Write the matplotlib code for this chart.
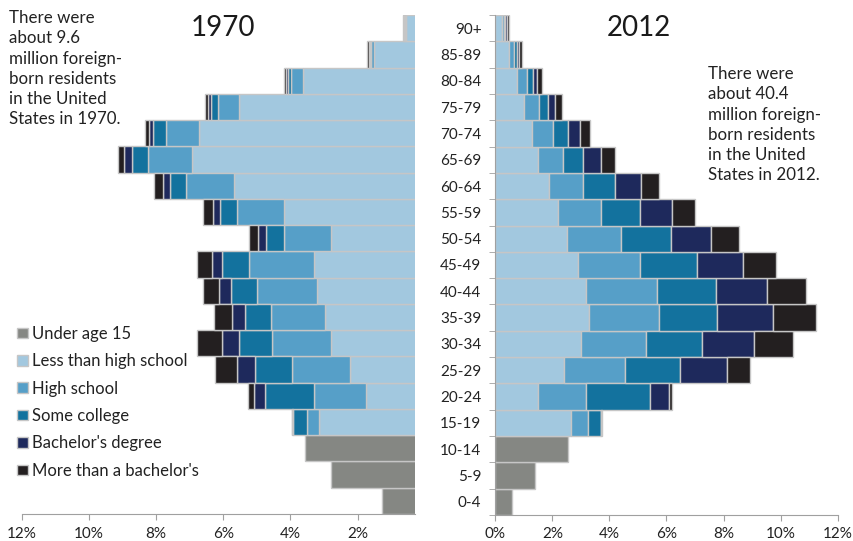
import matplotlib
matplotlib.use("Agg")
import matplotlib.pyplot as plt
from matplotlib.patches import Patch
import numpy as np

plt.rcParams['font.family'] = ['Lato', 'DejaVu Sans']

ages = ["0-4", "5-9", "10-14", "15-19", "20-24", "25-29", "30-34", "35-39",
        "40-44", "45-49", "50-54", "55-59", "60-64", "65-69", "70-74",
        "75-79", "80-84", "85-89", "90+"]

series = ["Under age 15", "Less than high school", "High school",
          "Some college", "Bachelor's degree", "More than a bachelor's"]
colors = ["#858783", "#a2c8df", "#569fc8", "#13729e", "#1e295c", "#231f20"]

# 1970 (percent of foreign-born population), rows in order of `ages`
u15_1970 = [1.27, 2.80, 3.56] + [0] * 16
lths_1970 = [0, 0, 0, 3.15, 1.75, 2.23, 2.80, 2.98, 3.22, 3.30, 2.80, 4.19, 5.68, 6.93, 6.73, 5.54, 3.62, 1.50, 0.57]
hs_1970 = [0, 0, 0, 0.37, 1.55, 1.71, 1.75, 1.61, 1.77, 1.94, 1.39, 1.39, 1.42, 1.30, 0.97, 0.62, 0.37, 0.11, 0.02]
sc_1970 = [0, 0, 0, 0.40, 1.45, 1.10, 0.98, 0.77, 0.79, 0.79, 0.55, 0.51, 0.47, 0.50, 0.38, 0.20, 0.08, 0.03, 0.01]
ba_1970 = [0, 0, 0, 0.02, 0.34, 0.54, 0.50, 0.37, 0.34, 0.31, 0.22, 0.22, 0.23, 0.21, 0.12, 0.10, 0.05, 0.03, 0.01]
ma_1970 = [0, 0, 0, 0.01, 0.18, 0.65, 0.76, 0.53, 0.47, 0.43, 0.28, 0.28, 0.25, 0.19, 0.12, 0.07, 0.07, 0.06, 0.05]

# 2012
u15_2012 = [0.60, 1.40, 2.56] + [0] * 16
lths_2012 = [0, 0, 0, 2.64, 1.51, 2.40, 3.01, 3.30, 3.17, 2.89, 2.52, 2.21, 1.87, 1.51, 1.29, 1.01, 0.75, 0.48, 0.24]
hs_2012 = [0, 0, 0, 0.60, 1.66, 2.15, 2.28, 2.44, 2.49, 2.18, 1.88, 1.48, 1.21, 0.87, 0.72, 0.51, 0.37, 0.19, 0.06]
sc_2012 = [0, 0, 0, 0.46, 2.24, 1.91, 1.95, 2.02, 2.07, 2.00, 1.75, 1.38, 1.10, 0.70, 0.53, 0.34, 0.21, 0.09, 0.05]
ba_2012 = [0, 0, 0, 0.02, 0.68, 1.65, 1.83, 1.97, 1.79, 1.60, 1.40, 1.11, 0.94, 0.61, 0.43, 0.24, 0.14, 0.08, 0.05]
ma_2012 = [0, 0, 0, 0.02, 0.10, 0.83, 1.38, 1.50, 1.38, 1.17, 0.98, 0.81, 0.63, 0.49, 0.35, 0.25, 0.17, 0.10, 0.09]

xticks = [0, 2, 4, 6, 8, 10, 12]
xticklabels = ["0%", "2%", "4%", "6%", "8%", "10%", "12%"]

W, H = 854, 541
fig = plt.figure(figsize=(W / 100, H / 100), dpi=100)

ax_l = fig.add_axes([21.7 / W, (H - 514) / H, (415 - 21.7) / W, 499 / H])
ax_r = fig.add_axes([495.3 / W, (H - 515) / H, (837.7 - 495.3) / W, 500 / H])

edge = "#c6c6c6"
y = np.arange(len(ages))


def draw(ax, data):
    left = np.zeros(len(ages))
    for vals, c in zip(data, colors):
        v = np.array(vals, dtype=float)
        mask = v > 0
        ax.barh(y[mask], v[mask], left=left[mask], height=1.0, color=c,
                edgecolor=edge, linewidth=1.0)
        left += v


draw(ax_l, [u15_1970, lths_1970, hs_1970, sc_1970, ba_1970, ma_1970])
draw(ax_r, [u15_2012, lths_2012, hs_2012, sc_2012, ba_2012, ma_2012])

spine_c = "#a0a0a0"
for ax in (ax_l, ax_r):
    ax.set_ylim(-0.5, len(ages) - 0.5)
    for s in ("top", "right", "left"):
        ax.spines[s].set_visible(False)
    ax.spines["bottom"].set_color(spine_c)
    ax.tick_params(axis="x", length=4, color=spine_c, labelsize=11,
                   labelcolor="#222222", pad=5)

# Left panel: reversed axis
ax_l.set_xlim(12, 0.29)
ax_l.set_xticks(xticks[1:])
ax_l.set_xticklabels(xticklabels[1:])
ax_l.set_yticks([])

# Right panel
ax_r.set_xlim(0, 12)
ax_r.set_xticks(xticks)
ax_r.set_xticklabels(xticklabels)
ax_r.spines["left"].set_visible(True)
ax_r.spines["left"].set_color(spine_c)
ax_r.set_yticks(y)
ax_r.set_yticklabels(ages)
ax_r.set_yticks(np.arange(-0.5, len(ages), 1.0), minor=True)
ax_r.tick_params(axis="y", which="major", length=0, pad=10, labelsize=11,
                 labelcolor="#222222")
ax_r.tick_params(axis="y", which="minor", length=4, color=spine_c)

# Titles
fig.text(223 / W, 1 - 28 / H, "1970", fontsize=20, ha="center", va="center",
         color="#1a1a1a")
fig.text(639 / W, 1 - 28 / H, "2012", fontsize=20, ha="center", va="center",
         color="#1a1a1a")

# Annotations
fig.text(9 / W, 1 - 10 / H,
         "There were\nabout 9.6\nmillion foreign-\nborn residents\nin the United\nStates in 1970.",
         fontsize=12.2, ha="left", va="top", linespacing=1.33, color="#222222")
fig.text(708 / W, 1 - 66 / H,
         "There were\nabout 40.4\nmillion foreign-\nborn residents\nin the United\nStates in 2012.",
         fontsize=12.2, ha="left", va="top", linespacing=1.33, color="#222222")

# Legend
handles = [Patch(facecolor=c, edgecolor=edge, linewidth=1.0) for c in colors]
fig.legend(handles, series, loc="upper left",
           bbox_to_anchor=(16.5 / W, 1 - 326 / H), frameon=False,
           fontsize=12, handlelength=0.68, handleheight=0.6,
           handletextpad=0.22, labelspacing=0.68, borderpad=0,
           borderaxespad=0, labelcolor="#222222")

fig.savefig("out.png", dpi=100)
